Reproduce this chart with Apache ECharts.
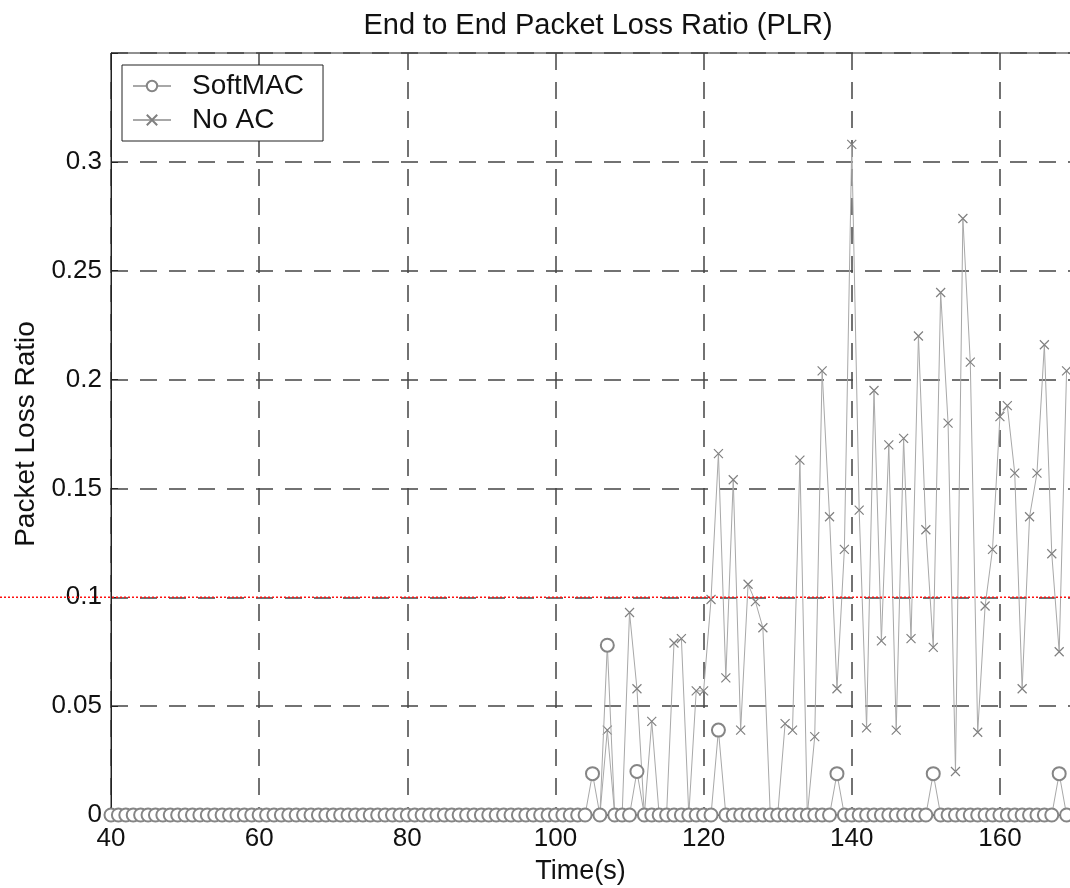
<!DOCTYPE html>
<html>
<head>
<meta charset="utf-8">
<title>End to End Packet Loss Ratio (PLR)</title>
<script src="https://cdn.jsdelivr.net/npm/echarts@6/dist/echarts.min.js"></script>
<style>
  html, body { margin: 0; padding: 0; background: #fff; }
  #plr { width: 1070px; height: 888px; }
</style>
</head>
<body>
<div id="plr"></div>
<script>
// time axis (s), one sample per second
const times = [
  40, 41, 42, 43, 44, 45, 46, 47, 48, 49,
  50, 51, 52, 53, 54, 55, 56, 57, 58, 59,
  60, 61, 62, 63, 64, 65, 66, 67, 68, 69,
  70, 71, 72, 73, 74, 75, 76, 77, 78, 79,
  80, 81, 82, 83, 84, 85, 86, 87, 88, 89,
  90, 91, 92, 93, 94, 95, 96, 97, 98, 99,
  100, 101, 102, 103, 104, 105, 106, 107, 108, 109,
  110, 111, 112, 113, 114, 115, 116, 117, 118, 119,
  120, 121, 122, 123, 124, 125, 126, 127, 128, 129,
  130, 131, 132, 133, 134, 135, 136, 137, 138, 139,
  140, 141, 142, 143, 144, 145, 146, 147, 148, 149,
  150, 151, 152, 153, 154, 155, 156, 157, 158, 159,
  160, 161, 162, 163, 164, 165, 166, 167, 168, 169
]

const softMAC = [
  0, 0, 0, 0, 0, 0, 0, 0, 0, 0,
  0, 0, 0, 0, 0, 0, 0, 0, 0, 0,
  0, 0, 0, 0, 0, 0, 0, 0, 0, 0,
  0, 0, 0, 0, 0, 0, 0, 0, 0, 0,
  0, 0, 0, 0, 0, 0, 0, 0, 0, 0,
  0, 0, 0, 0, 0, 0, 0, 0, 0, 0,
  0, 0, 0, 0, 0, 0.019, 0, 0.078, 0, 0,
  0, 0.020, 0, 0, 0, 0, 0, 0, 0, 0,
  0, 0, 0.039, 0, 0, 0, 0, 0, 0, 0,
  0, 0, 0, 0, 0, 0, 0, 0, 0.019, 0,
  0, 0, 0, 0, 0, 0, 0, 0, 0, 0,
  0, 0.019, 0, 0, 0, 0, 0, 0, 0, 0,
  0, 0, 0, 0, 0, 0, 0, 0, 0.019, 0
]

const noAC = [
  0, 0, 0, 0, 0, 0, 0, 0, 0, 0,
  0, 0, 0, 0, 0, 0, 0, 0, 0, 0,
  0, 0, 0, 0, 0, 0, 0, 0, 0, 0,
  0, 0, 0, 0, 0, 0, 0, 0, 0, 0,
  0, 0, 0, 0, 0, 0, 0, 0, 0, 0,
  0, 0, 0, 0, 0, 0, 0, 0, 0, 0,
  0, 0, 0, 0, 0, 0, 0, 0.039, 0, 0,
  0.093, 0.058, 0, 0.043, 0, 0, 0.079, 0.081, 0, 0.057,
  0.057, 0.099, 0.166, 0.063, 0.154, 0.039, 0.106, 0.098, 0.086, 0,
  0, 0.042, 0.039, 0.163, 0, 0.036, 0.204, 0.137, 0.058, 0.122,
  0.308, 0.140, 0.040, 0.195, 0.080, 0.170, 0.039, 0.173, 0.081, 0.220,
  0.131, 0.077, 0.240, 0.180, 0.020, 0.274, 0.208, 0.038, 0.096, 0.122,
  0.183, 0.188, 0.157, 0.058, 0.137, 0.157, 0.216, 0.120, 0.075, 0.204
]

// the red dotted reference level drawn across the figure
const refLevel = 0.1

const font = ['Liberation Sans', 'Arial', 'sans-serif']
const crossSymbol = 'path://M0,0L10,10M10,0L0,10'

const chart = echarts.init(document.getElementById('plr'))

var option = {
  animation: false,
  backgroundColor: '#fff',
  title: {
    text: 'End to End Packet Loss Ratio (PLR)',
    left: 593,
    textAlign: 'center',
    top: 6,
    textStyle: {
      color: '#111',
      fontSize: 29,
      fontWeight: 'normal',
      fontFamily: font,
    },
  },
  legend: {
    data: ['SoftMAC', 'No AC'],
    orient: 'vertical',
    left: 122,
    top: 65,
    padding: [7, 19, 7, 10],
    itemGap: 6,
    itemWidth: 38,
    itemHeight: 13,
    borderColor: '#222',
    borderWidth: 1,
    backgroundColor: '#fff',
    textStyle: {
      color: '#111',
      fontSize: 28,
      fontFamily: font,
      padding: [0, 0, 0, 16],
    },
  },
  grid: {
    left: 111,
    top: 53,
    width: 963,
    height: 762,
    outerBoundsMode: 'none',
    containLabel: false,
    show: true,
    borderColor: '#222',
    borderWidth: 1,
  },
  xAxis: {
    type: 'value',
    min: 40,
    max: 170,
    interval: 20,
    name: 'Time(s)',
    nameLocation: 'middle',
    nameGap: 43,
    nameTextStyle: {
      color: '#111',
      fontSize: 27,
      fontFamily: font,
      padding: [0, 24, 0, 0],
    },
    axisLine: { show: true, lineStyle: { color: '#222', width: 1 } },
    axisTick: { show: true, inside: true, length: 7, lineStyle: { color: '#222' } },
    axisLabel: {
      color: '#111',
      fontSize: 26,
      fontFamily: font,
      margin: 11,
      formatter: (v) => (v % 20 === 0 ? String(v) : ''),
    },
    splitLine: {
      show: true,
      lineStyle: { color: '#444', width: 1.5, type: [17, 12] },
    },
  },
  yAxis: {
    type: 'value',
    min: 0,
    max: 0.35,
    interval: 0.05,
    name: 'Packet Loss Ratio',
    nameLocation: 'middle',
    nameGap: 70,
    nameTextStyle: {
      color: '#111',
      fontSize: 28,
      fontFamily: font,
    },
    axisLine: { show: true, lineStyle: { color: '#222', width: 1 } },
    axisTick: { show: true, inside: true, length: 7, lineStyle: { color: '#222' } },
    axisLabel: {
      color: '#111',
      fontSize: 26,
      fontFamily: font,
      margin: 9,
      formatter: (v) => (v > 0.33 ? '' : String(+v.toFixed(2))),
    },
    splitLine: {
      show: true,
      lineStyle: { color: '#444', width: 1.5, type: [17, 12] },
    },
  },
  series: [
    {
      name: 'No AC',
      type: 'line',
      data: times.map((t, i) => [t, noAC[i]]),
      symbol: crossSymbol,
      symbolSize: 9,
      showAllSymbol: true,
      clip: false,
      lineStyle: { color: '#a8a8a8', width: 1 },
      itemStyle: { color: 'none', borderColor: '#808080', borderWidth: 1.2 },
      z: 3,
    },
    {
      name: 'SoftMAC',
      type: 'line',
      data: times.map((t, i) => [t, softMAC[i]]),
      symbol: 'emptyCircle',
      symbolSize: 13,
      showAllSymbol: true,
      clip: false,
      lineStyle: { color: '#a8a8a8', width: 1 },
      itemStyle: { color: '#858585', borderColor: '#858585', borderWidth: 1.2 },
      z: 4,
    },
  ],
}

chart.setOption(option)

// red dotted line at the reference level, spanning the whole figure width
const refY = chart.convertToPixel({ yAxisIndex: 0 }, refLevel)
chart.setOption({
  graphic: [
    {
      type: 'line',
      z: 100,
      shape: { x1: 0, y1: refY, x2: 1070, y2: refY },
      style: { stroke: '#ff1010', lineWidth: 1.5, lineDash: [2, 2] },
    },
  ],
})
</script>
</body>
</html>
